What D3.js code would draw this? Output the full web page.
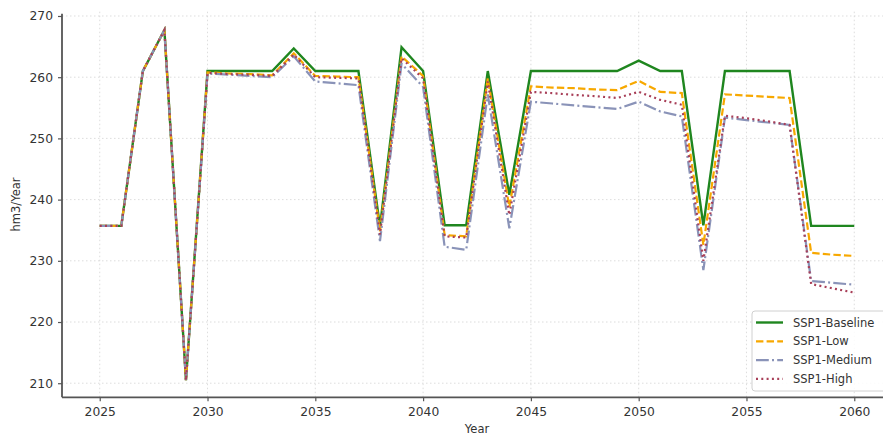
<!DOCTYPE html>
<html>
<head>
<meta charset="utf-8">
<script src="https://cdn.jsdelivr.net/npm/d3@7"></script>
<style>
  html, body { margin: 0; padding: 0; background: #fff; }
  svg { display: block; font-family: "DejaVu Sans", sans-serif; }
</style>
</head>
<body>
<svg id="chart" width="883" height="437"></svg>
<script>
// Annual water volume per SSP1 scenario (hm3/Year), 2025–2060
const years = d3.range(2025, 2061);

const baseline = [
  235.7, 235.7, 261.0, 267.7, 210.5, 261.0, 261.0, 261.0, 261.0, 264.7,
  261.0, 261.0, 261.0, 235.6, 264.9, 261.0, 235.8, 235.8, 261.0, 240.8,
  261.0, 261.0, 261.0, 261.0, 261.0, 262.7, 261.0, 261.0, 235.8, 261.0,
  261.0, 261.0, 261.0, 235.7, 235.7, 235.7
];
const low = [
  235.7, 235.7, 261.0, 267.7, 210.5, 260.8, 260.6, 260.5, 260.3, 263.9,
  260.2, 260.1, 260.0, 234.8, 263.4, 260.2, 234.2, 234.0, 259.8, 238.8,
  258.5, 258.3, 258.2, 258.0, 257.9, 259.4, 257.6, 257.4, 232.6, 257.2,
  257.0, 256.8, 256.6, 231.3, 231.0, 230.8
];
const medium = [
  235.7, 235.7, 261.0, 267.7, 210.5, 260.6, 260.4, 260.2, 260.0, 263.4,
  259.3, 259.0, 258.7, 233.2, 262.2, 258.4, 232.3, 231.8, 257.2, 235.3,
  256.0, 255.7, 255.4, 255.1, 254.8, 256.0, 254.4, 253.6, 228.5, 253.4,
  253.0, 252.6, 252.2, 226.7, 226.4, 226.1
];
const high = [
  235.7, 235.7, 261.0, 267.7, 210.5, 260.7, 260.5, 260.4, 260.2, 263.7,
  260.0, 259.9, 259.8, 234.3, 263.1, 259.8, 234.0, 233.8, 259.3, 237.5,
  257.6, 257.4, 257.1, 256.9, 256.6, 257.6, 256.3, 255.5, 230.0, 253.7,
  253.3, 252.8, 252.2, 226.2, 225.5, 224.8
];

const seriesNames = ["SSP1-Baseline", "SSP1-Low", "SSP1-Medium", "SSP1-High"];
const seriesValues = [baseline, low, medium, high];

const xTicks = [2025, 2030, 2035, 2040, 2045, 2050, 2055, 2060];
const yTicks = [210, 220, 230, 240, 250, 260, 270];

// Line styling per scenario
const styles = [
  { color: "#1f861f", dash: null,             width: 2.4 },
  { color: "#f7a800", dash: "7.4,3.2",        width: 2.2 },
  { color: "#8a93b8", dash: "12.8,3.2,2,3.2", width: 2.2 },
  { color: "#a83f58", dash: "2,3.3",          width: 2.2 }
];

const svg = d3.select("#chart");
const plot = { left: 62, right: 892, top: 11.7, bottom: 397.3 };

const x = d3.scaleLinear().domain([2023.25, 2061.75]).range([plot.left, plot.right]);
const y = d3.scaleLinear().domain([207.7, 270.7]).range([plot.bottom, plot.top]);

// Grid
const grid = svg.append("g").attr("class", "grid");
grid.selectAll("line.gx").data(xTicks).join("line")
  .attr("x1", d => x(d)).attr("x2", d => x(d))
  .attr("y1", plot.top).attr("y2", plot.bottom)
  .attr("stroke", "#d4d4d4").attr("stroke-width", 0.8).attr("stroke-dasharray", "1.5,2.5");
grid.selectAll("line.gy").data(yTicks).join("line")
  .attr("x1", plot.left).attr("x2", plot.right)
  .attr("y1", d => y(d)).attr("y2", d => y(d))
  .attr("stroke", "#d4d4d4").attr("stroke-width", 0.8).attr("stroke-dasharray", "1.5,2.5");

// Series lines
const line = d3.line().x((d, i) => x(years[i])).y(d => y(d));
const lines = svg.append("g").attr("class", "lines");
seriesValues.forEach((vals, i) => {
  const s = styles[i];
  lines.append("path")
    .datum(vals)
    .attr("d", line)
    .attr("fill", "none")
    .attr("stroke", s.color)
    .attr("stroke-width", s.width)
    .attr("stroke-linejoin", "miter")
    .attr("stroke-dasharray", s.dash);
});

// Axes
const xAxis = d3.axisBottom(x).tickValues(xTicks).tickFormat(d3.format("d")).tickSizeOuter(0).tickSize(4).tickPadding(6);
const yAxis = d3.axisLeft(y).tickValues(yTicks).tickSizeOuter(0).tickSize(4).tickPadding(5);

const gx = svg.append("g").attr("transform", `translate(0,${plot.bottom})`).call(xAxis);
const gy = svg.append("g").attr("transform", `translate(${plot.left},0)`).call(yAxis);
[gx, gy].forEach(g => {
  g.select(".domain").attr("stroke", "#555").attr("stroke-width", 1.8);
  g.selectAll(".tick line").attr("stroke", "#555").attr("stroke-width", 1.2);
  g.selectAll(".tick text").attr("fill", "#333").style("font-size", "12.3px").style("font-family", "DejaVu Sans, sans-serif");
});
gx.select(".domain").attr("d", `M${plot.left},0H${plot.right}`);
gy.select(".domain").attr("d", `M0,${plot.bottom}V${plot.top + 2}`);

// Axis titles
svg.append("text")
  .attr("x", (plot.left + plot.right) / 2).attr("y", 433)
  .attr("text-anchor", "middle")
  .attr("fill", "#333").style("font-size", "11.5px")
  .text("Year");
svg.append("text")
  .attr("transform", `translate(20,${(plot.top + plot.bottom) / 2}) rotate(-90)`)
  .attr("text-anchor", "middle")
  .attr("fill", "#333").style("font-size", "11.5px")
  .text("hm3/Year");

// Legend
const legend = svg.append("g").attr("transform", "translate(752,311)");
legend.append("rect")
  .attr("x", 0).attr("y", 0).attr("width", 140).attr("height", 80)
  .attr("rx", 3)
  .attr("fill", "#fff").attr("fill-opacity", 0.85)
  .attr("stroke", "#d0d0d0").attr("stroke-width", 1);
seriesNames.forEach((name, i) => {
  const s = styles[i];
  const ry = 11.5 + i * 18.8;
  legend.append("line")
    .attr("x1", 4).attr("x2", 31).attr("y1", ry).attr("y2", ry)
    .attr("stroke", s.color).attr("stroke-width", s.width)
    .attr("stroke-dasharray", s.dash);
  legend.append("text")
    .attr("x", 41).attr("y", ry).attr("dy", "0.35em")
    .attr("fill", "#333").style("font-size", "11.5px")
    .text(name);
});
</script>
</body>
</html>
